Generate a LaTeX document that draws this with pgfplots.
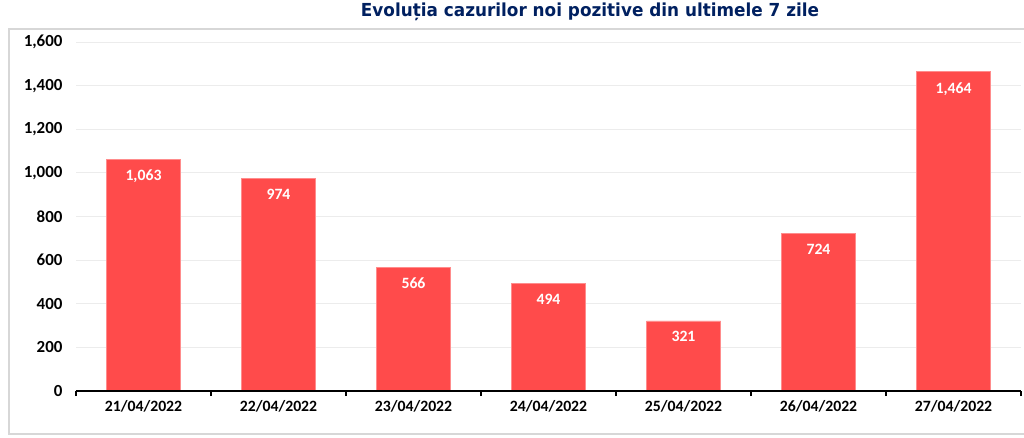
\documentclass[border=0pt]{standalone}
\usepackage{fontspec}
\setmainfont{Carlito}
\newfontfamily\titlefont{DejaVu Sans}
\usepackage{pgfplots}
\pgfplotsset{compat=1.18}
\definecolor{barred}{RGB}{255,75,75}
\definecolor{baredge}{RGB}{255,140,140}
\definecolor{titleblue}{RGB}{0,32,96}
\definecolor{gridgray}{RGB}{236,236,236}
\definecolor{framegray}{RGB}{215,215,215}
\begin{document}
\begin{tikzpicture}
\path[use as bounding box] (-76bp,-47bp) rectangle (948bp,391bp);
\draw[framegray, line width=1.3bp] (-67bp,-43bp) rectangle (1000bp,362bp);
\begin{axis}[
    scale only axis,
    width=945bp, height=349bp,
    xmin=-0.5, xmax=6.5,
    ymin=0, ymax=1600,
    ytick={0,200,...,1600},
    ymajorgrids=true,
    grid style={gridgray, line width=0.8bp},
    axis line style={draw=none},
    axis x line*=bottom,
    axis y line*=left,
    xtick={0,...,6},
    xticklabels={21/04/2022,22/04/2022,23/04/2022,24/04/2022,25/04/2022,26/04/2022,27/04/2022},
    major tick length=0pt,
    extra x ticks={-0.5,0.5,1.5,2.5,3.5,4.5,5.5,6.5},
    extra x tick labels={},
    extra x tick style={grid=none, major tick length=5bp, tick align=outside,
        tick style={black, line width=1.1bp}},
    xtick pos=bottom,
    ytick style={draw=none},
    xticklabel style={font=\fontsize{15.8}{18}\selectfont\bfseries, yshift=-6bp},
    yticklabel style={font=\fontsize{17}{19}\selectfont\bfseries, xshift=-10bp},
    /pgf/number format/assume math mode=true,
    /pgf/number format/1000 sep={,},
    ybar, bar width=74bp,
    nodes near coords,
    nodes near coords style={font=\fontsize{15.8}{18}\selectfont\bfseries, text=white,
        anchor=north, yshift=-7bp, /pgf/number format/1000 sep={,}},
    clip=false,
]
\addplot[fill=barred, draw=baredge, line width=0.6bp] coordinates {
    (0,1063) (1,974) (2,566) (3,494) (4,321) (5,724) (6,1464)
};
\draw[black, line width=1.3bp] (axis cs:-0.5,0) -- (axis cs:6.5,0);
\end{axis}
\node[text=titleblue] at (514bp,379bp) {\scalebox{0.94}[1]{\titlefont\fontsize{18}{21}\selectfont\bfseries Evoluția cazurilor noi pozitive din ultimele 7 zile}};
\end{tikzpicture}
\end{document}
